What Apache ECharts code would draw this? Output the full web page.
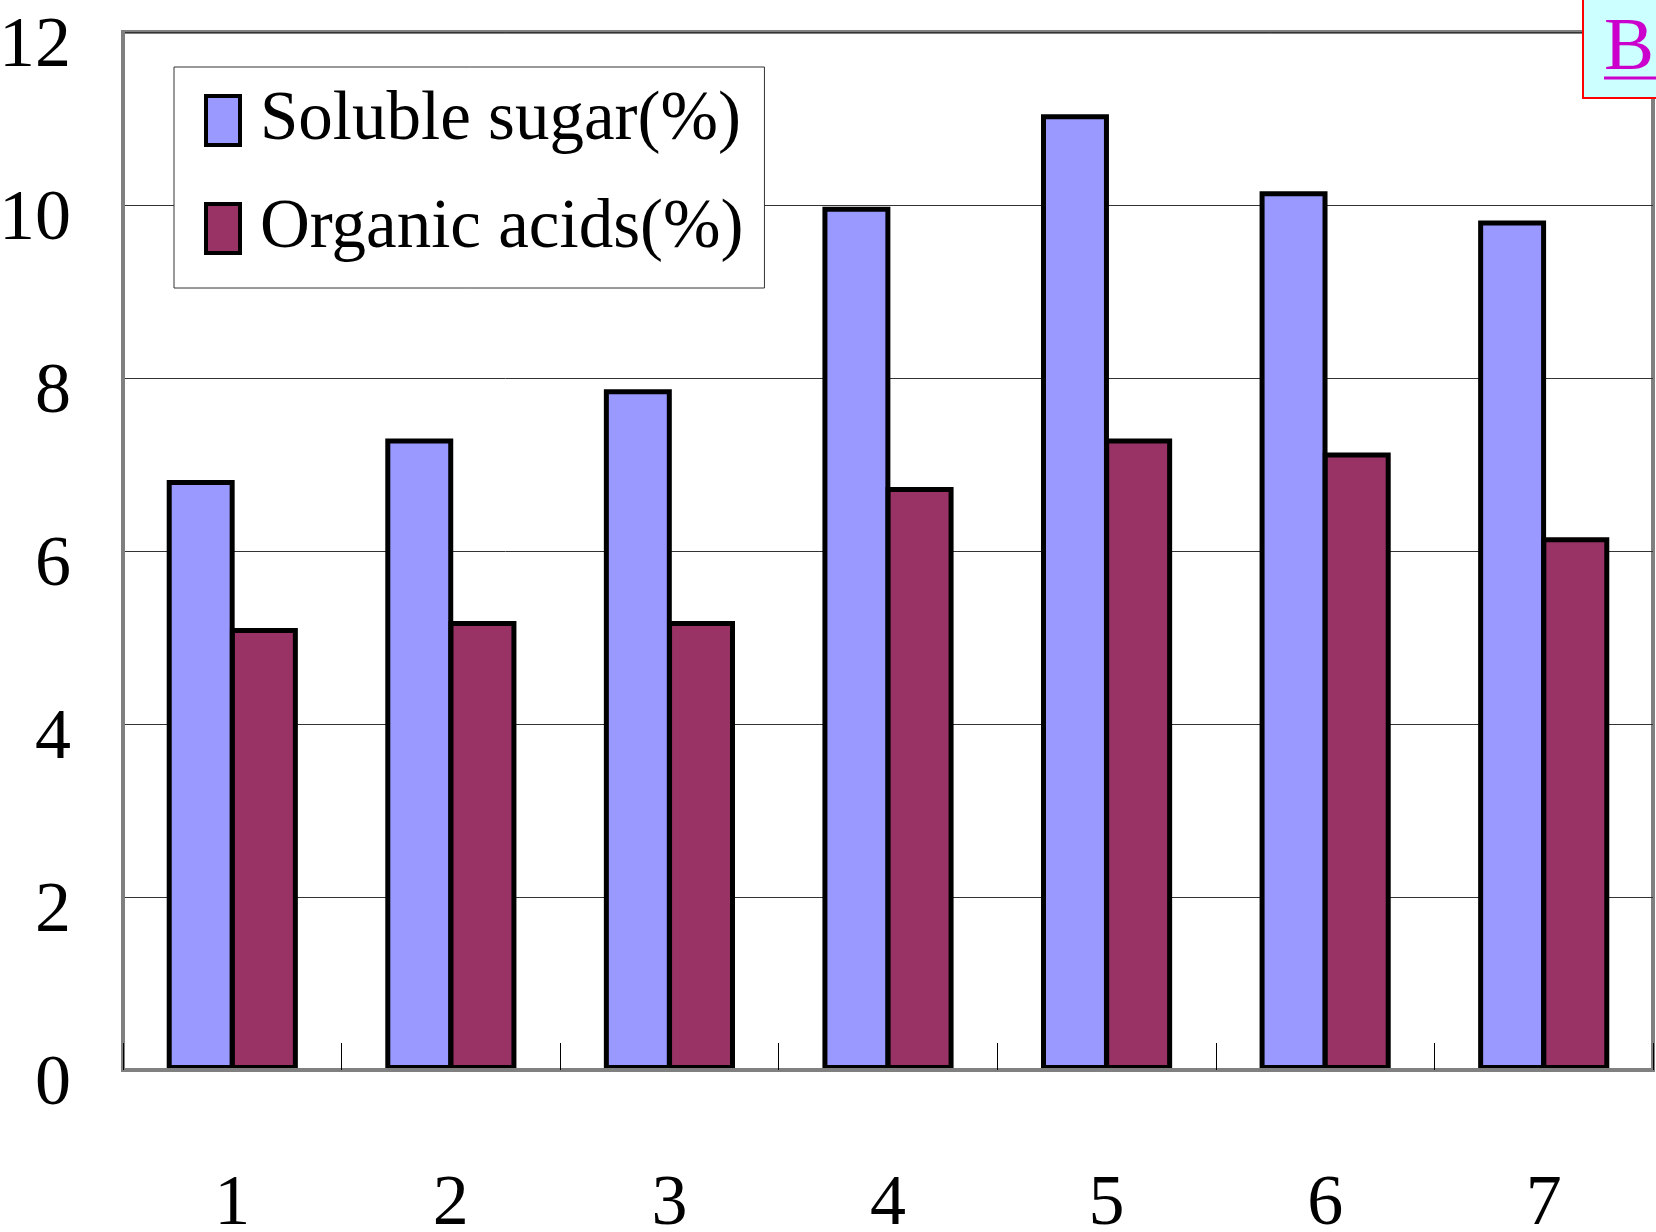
<!DOCTYPE html>
<html>
<head>
<meta charset="utf-8">
<script src="https://cdn.jsdelivr.net/npm/echarts@6/dist/echarts.min.js"></script>
<style>
	html, body { margin: 0; padding: 0; background: #fff; }
</style>
</head>
<body>
<div id="myChart" style="width: 1656px; height: 1232px;"></div>
<script>
	// data
	var categories = ['1', '2', '3', '4', '5', '6', '7'];
	var sugarValues = [6.82, 7.3, 7.87, 9.98, 11.05, 10.16, 9.82];
	var acidValues = [5.11, 5.19, 5.19, 6.74, 7.3, 7.14, 6.16];
	var seriesNames = ['Soluble sugar(%)', 'Organic acids(%)'];
	var yTicks = [0, 2, 4, 6, 8, 10, 12];

	var font = "'Liberation Serif', 'DejaVu Serif', serif";

	let myChart = echarts.init(document.getElementById('myChart'));

	var barStyle = function (color) {
		return {
			color: color,
			borderColor: '#000',
			borderWidth: 5
		};
	};

	var option = {
		animation: false,
		backgroundColor: '#fff',
		grid: {
			left: 123,
			right: 3,
			top: 32,
			bottom: 162,
			outerBoundsMode: 'none', // 不要自动收缩绘图区
			show: true,
			borderColor: '#808080', // 灰色外框
			borderWidth: 4
		},
		legend: {
			data: seriesNames,
			orient: 'vertical',
			left: 174,
			top: 67,
			padding: [19, 21, 25, 30],
			itemGap: 39,
			itemWidth: 34,
			itemHeight: 49,
			icon: 'rect',
			backgroundColor: '#fff',
			borderColor: '#333',
			borderWidth: 1,
			itemStyle: {
				borderColor: '#000',
				borderWidth: 4
			},
			textStyle: {
				fontFamily: font,
				fontSize: 69,
				color: '#000',
				width: 480,
				padding: [0, 0, 0, 15]
			}
		},
		xAxis: {
			type: 'category',
			data: categories,
			axisLine: {
				lineStyle: { color: '#808080', width: 4 }
			},
			axisTick: {
				show: true,
				inside: true,
				length: 27,
				lineStyle: { color: '#000', width: 1 }
			},
			axisLabel: {
				margin: 99,
				fontFamily: font,
				fontSize: 72,
				color: '#000'
			},
			z: 5
		},
		yAxis: {
			type: 'value',
			min: yTicks[0],
			max: yTicks[yTicks.length - 1],
			interval: 2,
			axisLine: {
				show: true,
				lineStyle: { color: '#808080', width: 4 }
			},
			axisTick: { show: false },
			axisLabel: {
				margin: 52,
				fontFamily: font,
				fontSize: 72,
				color: '#000',
				verticalAlign: 'top',
				lineHeight: 30 // 标签比刻度线略低
			},
			splitLine: {
				lineStyle: { color: '#333', width: 1 }
			}
		},
		series: [{
			name: seriesNames[0],
			type: 'bar',
			data: sugarValues,
			barGap: '-7%', // 两根柱子共用一条边框
			barCategoryGap: '40%',
			itemStyle: barStyle('#9999FF')
		}, {
			name: seriesNames[1],
			type: 'bar',
			data: acidValues,
			itemStyle: barStyle('#993366')
		}],
		graphic: [{
			// 右上角的 B 标记
			type: 'rect',
			shape: { x: 1583, y: -2, width: 80, height: 100 },
			style: { fill: '#CCFFFF', stroke: '#FF0000', lineWidth: 2 },
			z: 10
		}, {
			type: 'text',
			x: 1604,
			y: 12,
			style: {
				text: 'B',
				fill: '#CC00CC',
				font: "75px 'Liberation Serif', serif"
			},
			z: 11
		}, {
			type: 'line',
			shape: { x1: 1604, y1: 78, x2: 1656, y2: 78 },
			style: { stroke: '#CC00CC', lineWidth: 3 },
			z: 11
		}]
	};

	myChart.setOption(option);
</script>
</body>
</html>
